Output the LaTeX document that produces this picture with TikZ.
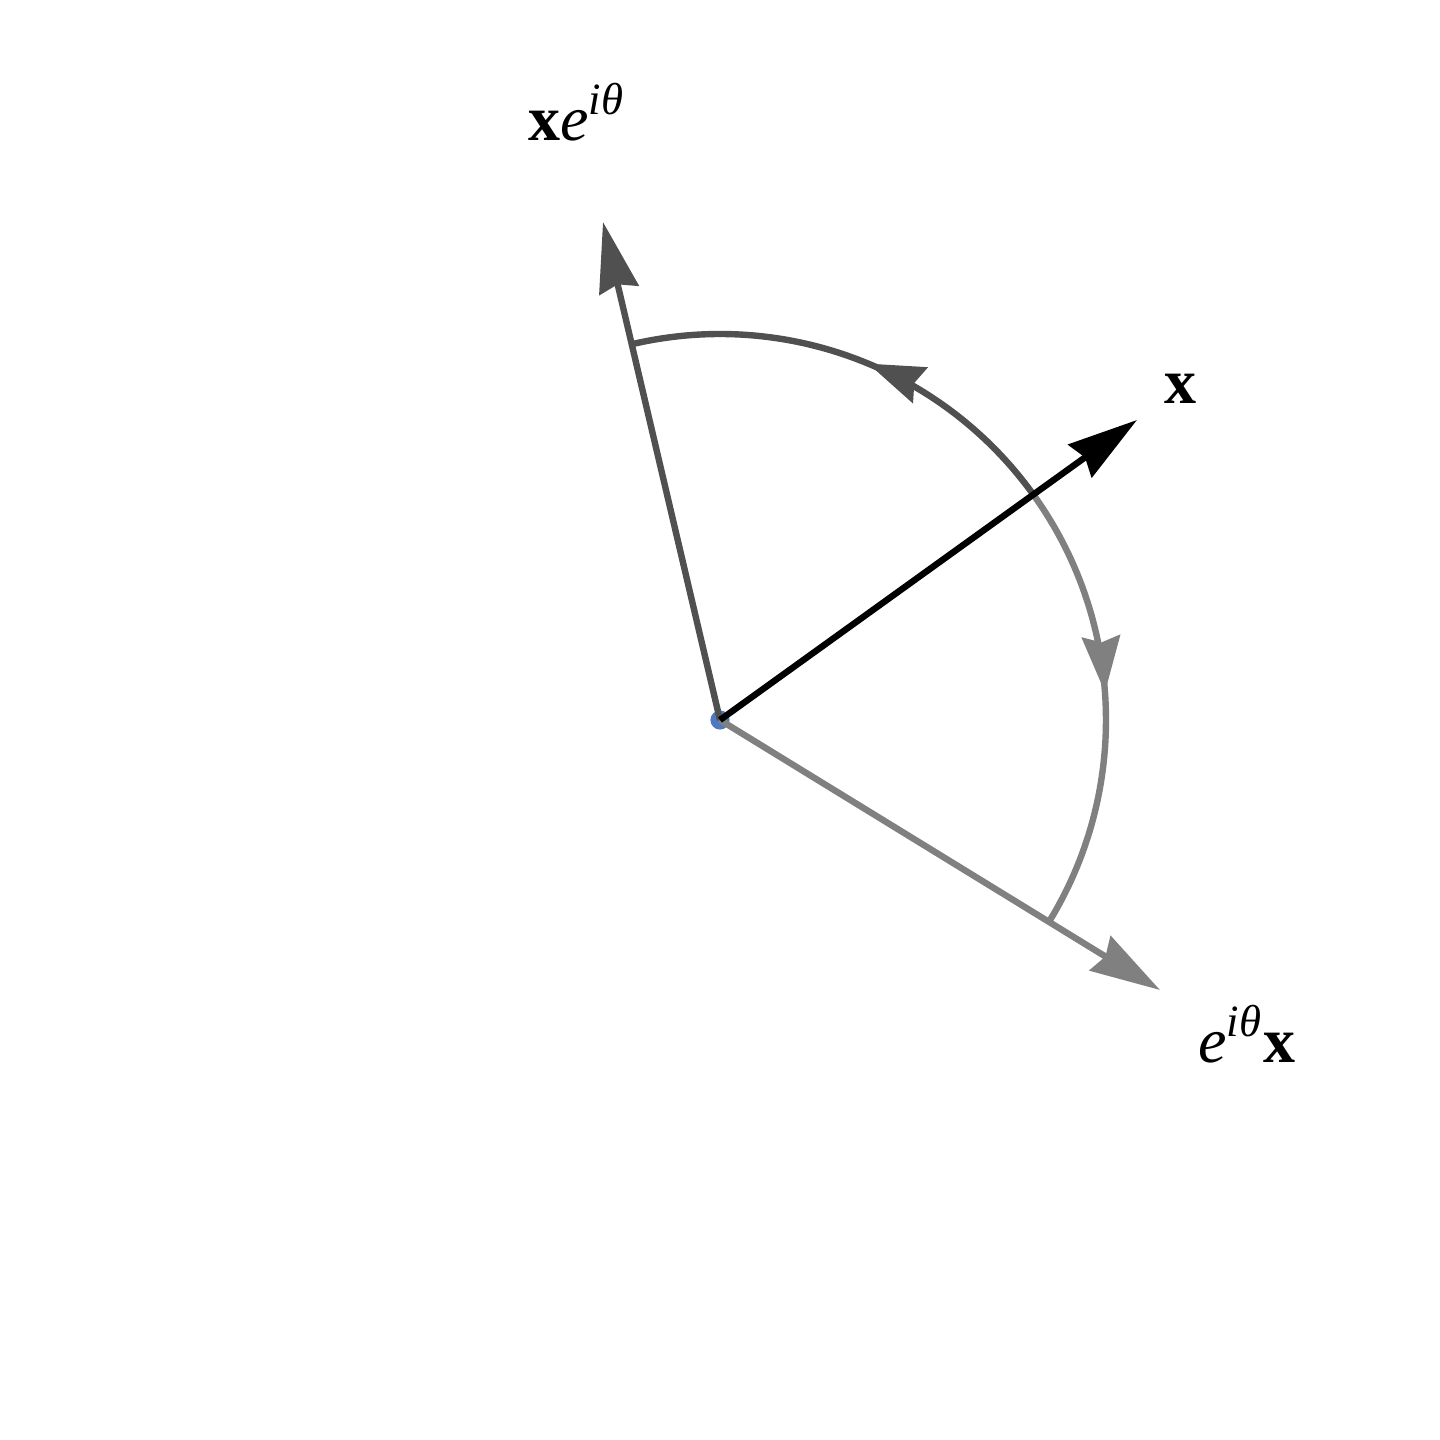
\documentclass[tikz,border=0pt]{standalone}
\usepackage{fontspec}
\setmainfont{Liberation Serif}
\usetikzlibrary{arrows.meta,decorations.markings}
\definecolor{darkg}{HTML}{505050}
\definecolor{lightg}{HTML}{808080}
\definecolor{dotblue}{HTML}{5078C0}
\tikzset{
  vec/.style={line width=1.6pt,-{Stealth[length=17.5pt,width=10pt,inset=1.5pt]}},
  arcline/.style={line width=1.6pt},
  midarrow/.style={postaction={decorate,decoration={markings,
      mark=at position #1 with {\arrow{Stealth[length=14pt,width=9.5pt,inset=1.5pt]}}}}},
  lbl/.style={anchor=base,inner sep=0pt,font=\fontsize{16}{19}\selectfont}
}
\begin{document}
\begin{tikzpicture}[x=0.25pt,y=0.25pt]
\useasboundingbox (0,0) rectangle (1440,1440);
\coordinate (O) at (720,720);
\coordinate (X) at (1137,1020);
\coordinate (XE) at (603,1218);
\coordinate (EX) at (1160,450);
\fill[dotblue] (O) circle (2.4pt);
\draw[arcline,darkg,midarrow=0.47] ([shift={(35.7:96.5pt)}]O) arc[start angle=35.7,end angle=103.2,radius=96.5pt];
\draw[arcline,lightg,midarrow=0.47] ([shift={(35.7:96.5pt)}]O) arc[start angle=35.7,end angle=-31.5,radius=96.5pt];
\draw[vec,darkg] (O) -- (XE);
\draw[vec,lightg] (O) -- (EX);
\draw[vec,black] (O) -- (X);
\node[lbl] (lx) at (1180,1036) {\textbf{x}};
\node[lbl] (lxe) at (577,1300) {\textbf{x}\textit{e}\textsuperscript{\textit{iθ}}};
\node[lbl] (lex) at (1247,378) {\textit{e}\textsuperscript{\textit{iθ}}\textbf{x}};
\end{tikzpicture}
\end{document}
